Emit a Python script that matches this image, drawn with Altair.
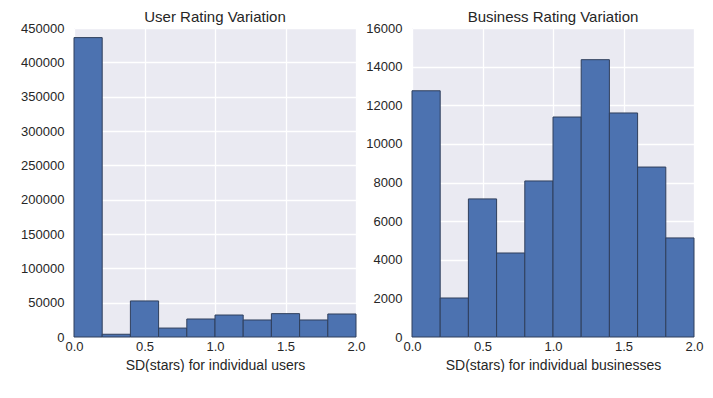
import altair as alt
import pandas as pd

bin_start = [0.0, 0.2, 0.4, 0.6, 0.8, 1.0, 1.2, 1.4, 1.6, 1.8]
bin_end = [0.2, 0.4, 0.6, 0.8, 1.0, 1.2, 1.4, 1.6, 1.8, 2.0]
user_counts = [436000, 4000, 52500, 13000, 26200, 32000, 24800, 34000, 24800, 33500]
business_counts = [12750, 2020, 7150, 4350, 8080, 11390, 14360, 11600, 8800, 5130]

x_ticks = [0.0, 0.5, 1.0, 1.5, 2.0]
user_y_ticks = list(range(0, 450001, 50000))
business_y_ticks = list(range(0, 16001, 2000))

FONT = "Liberation Sans"
TEXT = "#262626"


def panel(counts, title, xtitle, ymax, yticks, extent):
    df = pd.DataFrame({"start": bin_start, "end": bin_end, "count": counts,
                       "zero": [0] * len(counts)})
    return (
        alt.Chart(df)
        .mark_bar(color="#4C72B0", stroke="#2f3f5c", strokeWidth=1)
        .encode(
            x=alt.X(
                "start:Q",
                scale=alt.Scale(domain=[0, 2], nice=False, zero=False, padding=0),
                axis=alt.Axis(values=x_ticks, format=".1f", title=xtitle,
                              labelFlush=False),
            ),
            x2="end:Q",
            y=alt.Y(
                "count:Q",
                scale=alt.Scale(domain=[0, ymax], nice=False, padding=0),
                axis=alt.Axis(values=yticks, format="d", title=None,
                              minExtent=extent, maxExtent=extent),
            ),
            y2="zero:Q",
        )
        .properties(width=282, height=309,
                    title=alt.TitleParams(title, font=FONT, fontSize=15,
                                          fontWeight="normal", color=TEXT,
                                          offset=2, dy=5))
    )


left = panel(user_counts, "User Rating Variation", "SD(stars) for individual users",
             450000, user_y_ticks, 66)
right = panel(business_counts, "Business Rating Variation",
              "SD(stars) for individual businesses", 16000, business_y_ticks, 46)

chart = (
    alt.hconcat(left, right, spacing=56, bounds="flush")
    .properties(padding={"left": 0, "top": 2, "right": 0, "bottom": 0})
    .configure_view(fill="#EAEAF2", stroke=None)
    .configure_axis(
        grid=True,
        gridColor="white",
        gridWidth=1.3,
        domain=False,
        ticks=False,
        labelFont=FONT,
        labelFontSize=13,
        labelColor=TEXT,
        labelPadding=10,
        titleFont=FONT,
        titleFontSize=14,
        titleFontWeight="normal",
        titleColor=TEXT,
    )
    .configure_axisX(labelPadding=3, titlePadding=5)
)

chart.save("out.html", embed_options={"renderer": "svg", "actions": False})
